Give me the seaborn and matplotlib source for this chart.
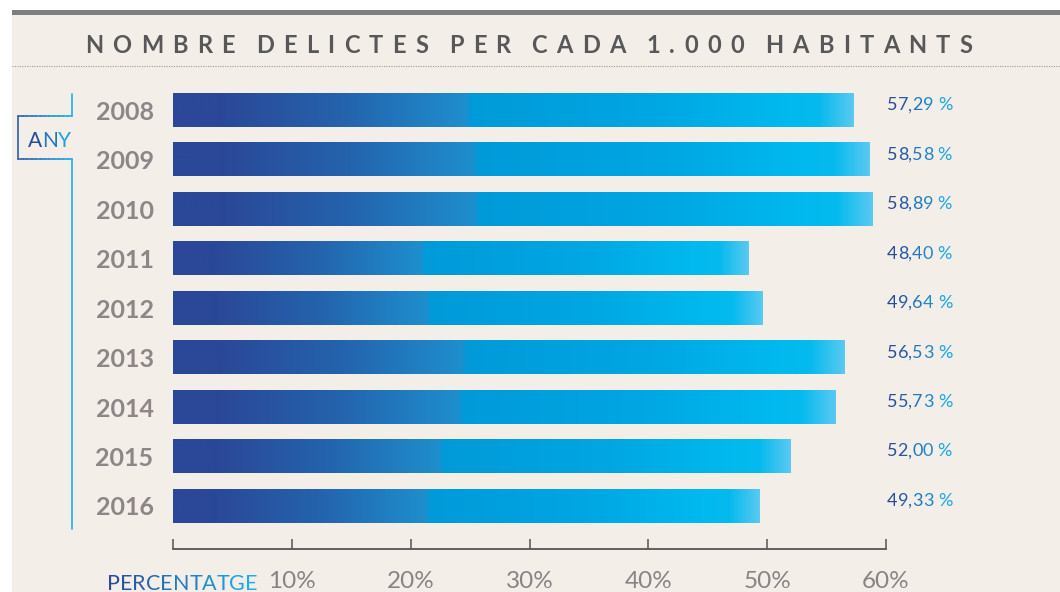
import numpy as np
import matplotlib
matplotlib.use("Agg")
import matplotlib.pyplot as plt
import seaborn as sns
from matplotlib.colors import LinearSegmentedColormap, to_rgb
from matplotlib.lines import Line2D
from matplotlib.patches import Rectangle

# ---- data ----
years = ["2008", "2009", "2010", "2011", "2012", "2013", "2014", "2015", "2016"]
values = [57.29, 58.58, 58.89, 48.40, 49.64, 56.53, 55.73, 52.00, 49.33]
value_labels = ["57,29 %", "58,58 %", "58,89 %", "48,40 %", "49,64 %",
                "56,53 %", "55,73 %", "52,00 %", "49,33 %"]
tick_values = [0, 10, 20, 30, 40, 50, 60]
tick_labels = ["", "10%", "20%", "30%", "40%", "50%", "60%"]
title = "NOMBRE DELICTES PER CADA 1.000 HABITANTS"
y_title = "ANY"
x_title = "PERCENTATGE"

W, H = 1060, 592
BG = "#f3eee8"
DARK = "#2b4797"

sns.set_theme(style="white")
plt.rcParams["font.family"] = ["Lato", "DejaVu Sans"]

fig = plt.figure(figsize=(W / 100, H / 100), dpi=100, facecolor="white")

def fx(px):
    return px / W

def fy(py):
    return 1 - py / H

# background panel and top bar
fig.add_artist(Rectangle((fx(12), 0), 1 - fx(12), fy(14), transform=fig.transFigure,
                         facecolor=BG, edgecolor="none", zorder=-10))
fig.add_artist(Rectangle((fx(12), fy(15)), 1 - fx(12), fy(10) - fy(15), transform=fig.transFigure,
                         facecolor="#7f7f7f", edgecolor="none", zorder=-9))
# dotted separator
fig.add_artist(Line2D([fx(12), 1], [fy(66), fy(66)], transform=fig.transFigure,
                      color="#9a9a9a", lw=0.8, linestyle=(0, (1, 1.2))))

# axes
ax_left, ax_right = 173, 886
ax_top, ax_bottom = 80, 549
ax = fig.add_axes([fx(ax_left), fy(ax_bottom), fx(ax_right) - fx(ax_left), fy(ax_top) - fy(ax_bottom)])
ax.set_facecolor("none")

sns.barplot(x=values, y=years, orient="h", width=0.67, ax=ax, color=DARK, saturation=1)

cmap = LinearSegmentedColormap.from_list("bar", [
    (0.0, "#2b4797"), (0.065, "#2b4797"), (0.25, "#2463ad"), (0.43, "#1e8ecd"),
    (0.437, "#009ad9"), (0.7, "#00a6e2"), (0.9, "#00b9ee"), (0.95, "#05baee"),
    (1.0, "#58c9f1")])
grad = np.linspace(0, 1, 512).reshape(1, -1)
for p in list(ax.patches):
    x0, y0 = p.get_x(), p.get_y()
    w, h = p.get_width(), p.get_height()
    ax.imshow(grad, cmap=cmap, extent=(x0, x0 + w, y0 + h, y0), aspect="auto",
              interpolation="bilinear", zorder=2)
    p.set_visible(False)

ax.set_xlim(0, 60)
ax.set_ylim(8.87, -0.61)

# axis styling
for s in ["top", "right", "left"]:
    ax.spines[s].set_visible(False)
ax.spines["bottom"].set_color("#555555")
ax.spines["bottom"].set_linewidth(1.3)
ax.set_xticks(tick_values)
ax.set_xticklabels(tick_labels)
ax.tick_params(axis="x", bottom=True, direction="in", length=7, width=1.1, color="#555555",
               pad=16, labelsize=17.5, labelcolor="#8a8284")
ax.tick_params(axis="y", left=False, length=0, pad=14, labelsize=18, labelcolor="#8e8588")
for t in ax.get_yticklabels():
    t.set_fontweight("bold")
ax.set_xlabel("")
ax.set_ylabel("")
ax.grid(False)

def mix(c1, c2, t):
    a, b = np.array(to_rgb(c1)), np.array(to_rgb(c2))
    return tuple(a + (b - a) * t)

def gradient_text(x, y, s, c1, c2, transform, fontsize, fontweight="normal", gap=0.0):
    n = len(s)
    prev = None
    for i, ch in enumerate(s):
        col = mix(c1, c2, i / max(n - 1, 1))
        if prev is None:
            prev = ax.text(x, y, ch, color=col, transform=transform, clip_on=False,
                           fontsize=fontsize, fontweight=fontweight, ha="left", va="bottom")
        else:
            prev = ax.annotate(ch, xy=(1, 0), xycoords=prev, xytext=(gap, 0),
                               textcoords="offset points", va="bottom", ha="left",
                               color=col, annotation_clip=False,
                               fontsize=fontsize, fontweight=fontweight)
    return prev

# title: letter-spaced, chained character by character
letter_gap = 6.7   # points
word_gap = 15.0    # points
tcol = "#58585a"
prev = ax.text(fx(85), fy(57), title[0], transform=fig.transFigure, ha="left", va="bottom",
               fontsize=17, fontweight="bold", color=tcol, clip_on=False)
pending = letter_gap
for ch in title[1:]:
    if ch == " ":
        pending = word_gap
        continue
    prev = ax.annotate(ch, xy=(1, 0), xycoords=prev, xytext=(pending, 0),
                       textcoords="offset points", va="bottom", ha="left",
                       fontsize=17, fontweight="bold", color=tcol, annotation_clip=False)
    pending = letter_gap

# value labels
for i, lab in enumerate(value_labels):
    gradient_text(60.1, i + 0.06, lab, "#2a4a9a", "#1aa6e4", ax.transData, fontsize=13)

# ANY bracket
segs = [((72, 94), (72, 116), "#1ab0ec"),
        ((72, 116), (18, 116), None),
        ((18, 116), (18, 159), "#2d5eac"),
        ((18, 159), (72, 159), None),
        ((72, 159), (72, 529), "#1ab0ec")]
for (a, b, c) in segs:
    if c is None:
        n = 12
        xs = np.linspace(a[0], b[0], n + 1)
        for k in range(n):
            t = (xs[k] - 18) / 54
            col = mix("#2d5eac", "#1ab0ec", t)
            fig.add_artist(Line2D([fx(xs[k]), fx(xs[k + 1])], [fy(a[1]), fy(a[1])],
                                  transform=fig.transFigure, color=col, lw=1.2))
    else:
        fig.add_artist(Line2D([fx(a[0]), fx(b[0])], [fy(a[1]), fy(b[1])],
                              transform=fig.transFigure, color=c, lw=1.2))

gradient_text(fx(28), fy(151), y_title, "#2a4a9a", "#1aa6e4", fig.transFigure, fontsize=15)
gradient_text(fx(107), fy(594), x_title, "#2a4a9a", "#1aaeea", fig.transFigure, fontsize=15.5)

fig.savefig("out.png", dpi=100, facecolor="white")
